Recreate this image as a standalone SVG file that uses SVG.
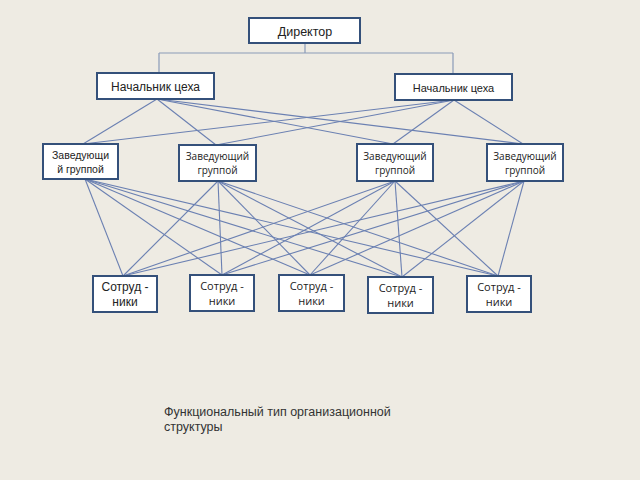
<svg xmlns="http://www.w3.org/2000/svg" width="640" height="480" viewBox="0 0 640 480">
<style>
.box{fill:#ffffff;stroke:#34507a;stroke-width:2}
.t{font-family:"Liberation Sans",Arial,sans-serif;fill:#222;text-anchor:middle}
.c{font-family:"Open Sans","Liberation Sans",sans-serif;fill:#222;text-anchor:middle}
.ln{stroke:#6b80b2;stroke-width:1.1;fill:none}
.tree{stroke:#8a9bb8;stroke-width:1.2;fill:none}
</style>
<rect width="640" height="480" fill="#eeebe3"/>
<g id="connectors">
<path class="tree" d="M305,43 V53 M159,53 H453 M159,53 V73 M453,53 V74"/>
<g class="ln">
<line x1="157" y1="99" x2="83" y2="144"/>
<line x1="157" y1="99" x2="216" y2="145"/>
<line x1="157" y1="99" x2="393" y2="144"/>
<line x1="157" y1="99" x2="523" y2="144"/>
<line x1="454" y1="100" x2="83" y2="144"/>
<line x1="454" y1="100" x2="216" y2="145"/>
<line x1="454" y1="100" x2="393" y2="144"/>
<line x1="454" y1="100" x2="523" y2="144"/>
<line x1="85" y1="179" x2="123" y2="276"/>
<line x1="85" y1="179" x2="222" y2="275"/>
<line x1="85" y1="179" x2="310" y2="275"/>
<line x1="85" y1="179" x2="402" y2="277"/>
<line x1="85" y1="179" x2="498" y2="276"/>
<line x1="218" y1="181" x2="123" y2="276"/>
<line x1="218" y1="181" x2="222" y2="275"/>
<line x1="218" y1="181" x2="310" y2="275"/>
<line x1="218" y1="181" x2="402" y2="277"/>
<line x1="218" y1="181" x2="498" y2="276"/>
<line x1="395" y1="181" x2="123" y2="276"/>
<line x1="395" y1="181" x2="222" y2="275"/>
<line x1="395" y1="181" x2="310" y2="275"/>
<line x1="395" y1="181" x2="402" y2="277"/>
<line x1="395" y1="181" x2="498" y2="276"/>
<line x1="524" y1="181" x2="123" y2="276"/>
<line x1="524" y1="181" x2="222" y2="275"/>
<line x1="524" y1="181" x2="310" y2="275"/>
<line x1="524" y1="181" x2="402" y2="277"/>
<line x1="524" y1="181" x2="498" y2="276"/>
</g>
</g>
<g id="director"><rect class="box" x="249" y="18" width="111" height="25"/><text class="t" x="305" y="35.5" font-size="12.5">Директор</text></g>
<g id="nach1"><rect class="box" x="97" y="73" width="117" height="26"/><text class="t" x="155.5" y="90.5" font-size="12">Начальник цеха</text></g>
<g id="nach2"><rect class="box" x="395" y="74" width="117" height="26"/><text class="t" x="453.5" y="91.5" font-size="11">Начальник цеха</text></g>
<g id="zav1"><rect class="box" x="43" y="144" width="75" height="35"/><text class="t" font-size="10.5"><tspan x="80.5" y="159">Заведующи</tspan><tspan x="80.5" y="173">й группой</tspan></text></g>
<g id="zav2"><rect class="box" x="179" y="145" width="77" height="36"/><text class="c" font-size="10"><tspan x="217.5" y="160">Заведующий</tspan><tspan x="217.5" y="174">группой</tspan></text></g>
<g id="zav3"><rect class="box" x="357" y="144" width="76" height="37"/><text class="c" font-size="10"><tspan x="395" y="160">Заведующий</tspan><tspan x="395" y="174">группой</tspan></text></g>
<g id="zav4"><rect class="box" x="487" y="144" width="76" height="37"/><text class="c" font-size="10"><tspan x="525" y="160">Заведующий</tspan><tspan x="525" y="174">группой</tspan></text></g>
<g id="s1"><rect class="box" x="93" y="276" width="64" height="36"/><text class="t" font-size="12"><tspan x="125" y="291">Сотруд -</tspan><tspan x="125" y="306">ники</tspan></text></g>
<g id="s2"><rect class="box" x="190" y="275" width="64" height="36"/><text class="c" font-size="11"><tspan x="222" y="290">Сотруд -</tspan><tspan x="222" y="305">ники</tspan></text></g>
<g id="s3"><rect class="box" x="279" y="275" width="65" height="36"/><text class="c" font-size="11"><tspan x="311.5" y="290">Сотруд -</tspan><tspan x="311.5" y="305">ники</tspan></text></g>
<g id="s4"><rect class="box" x="368" y="277" width="65" height="36"/><text class="c" font-size="11"><tspan x="400.5" y="292">Сотруд -</tspan><tspan x="400.5" y="307">ники</tspan></text></g>
<g id="s5"><rect class="box" x="467" y="276" width="64" height="36"/><text class="c" font-size="11"><tspan x="499" y="291">Сотруд -</tspan><tspan x="499" y="306">ники</tspan></text></g>
<text font-family="Liberation Sans,Arial,sans-serif" font-size="12.5" fill="#333"><tspan x="164" y="416">Функциональный тип организационной</tspan><tspan x="164" y="431">структуры</tspan></text>
</svg>
